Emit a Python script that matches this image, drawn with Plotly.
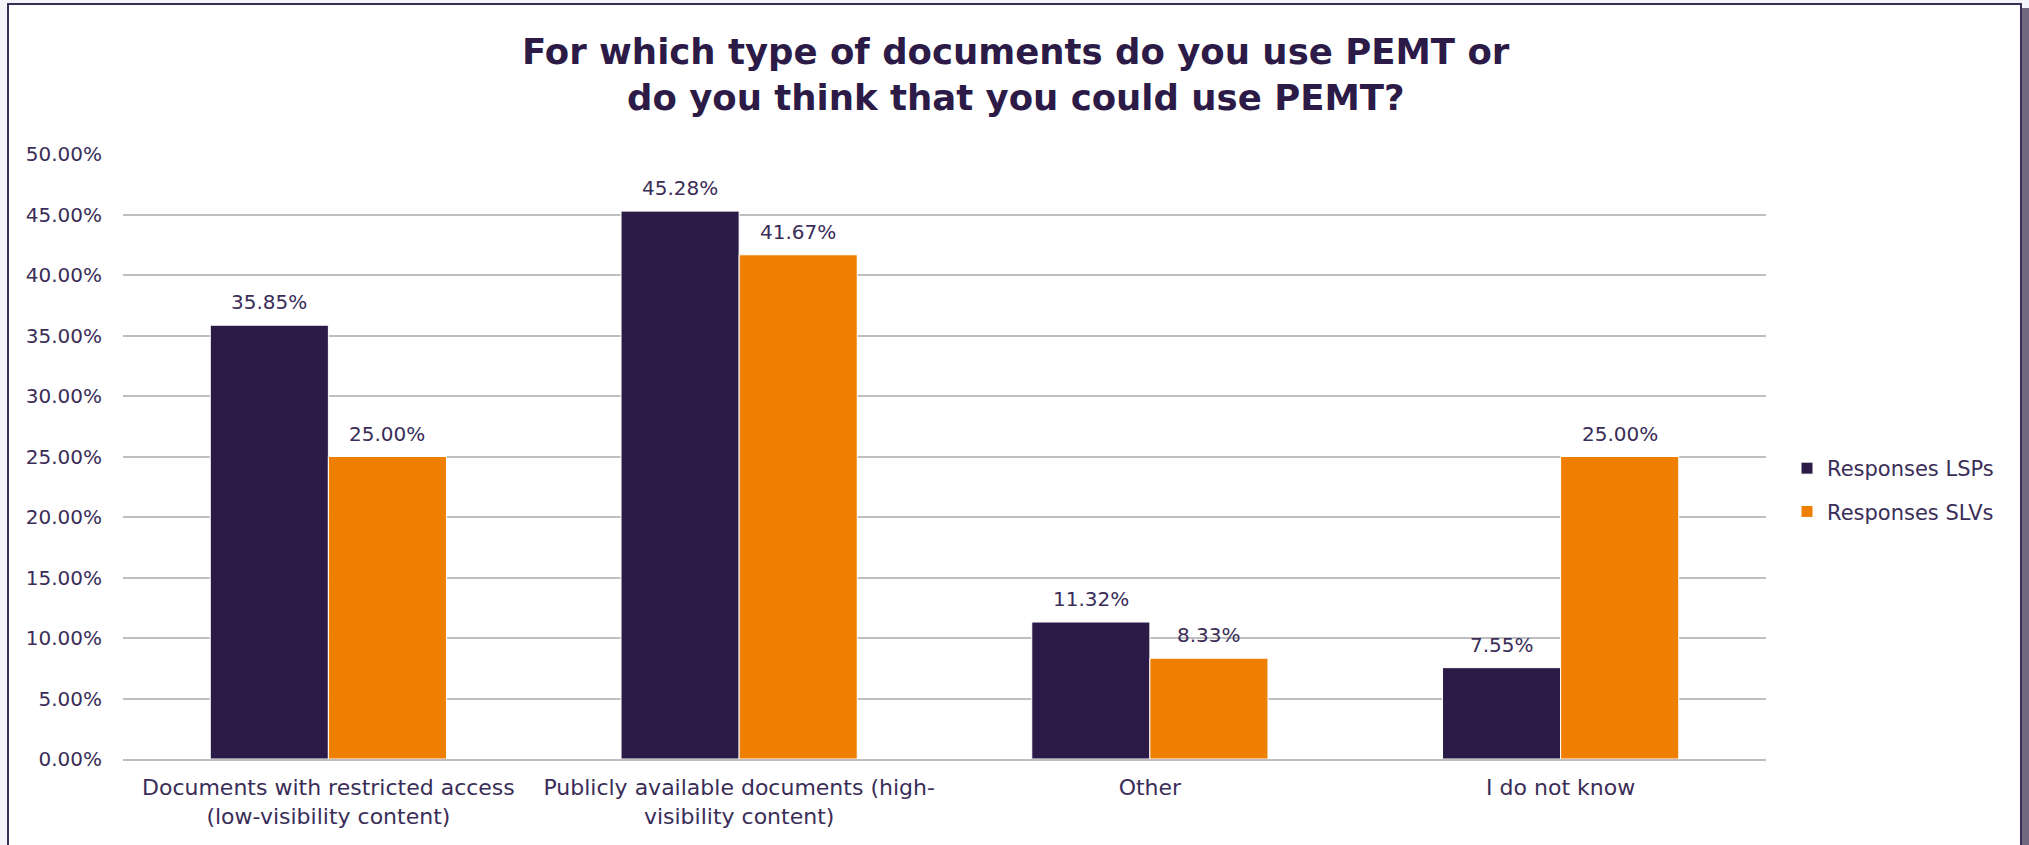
import plotly.graph_objects as go

categories = [
    "Documents with restricted access<br>(low-visibility content)",
    "Publicly available documents (high-<br>visibility content)",
    "Other",
    "I do not know",
]
lsp_values = [35.85, 45.28, 11.32, 7.55]
slv_values = [25.00, 41.67, 8.33, 25.00]
series_names = ["Responses LSPs", "Responses SLVs"]
y_ticks = [0, 5, 10, 15, 20, 25, 30, 35, 40, 45, 50]
y_tick_labels = [f"{v:.2f}%" for v in y_ticks]
title_lines = ["For which type of documents do you use PEMT or",
               "do you think that you could use PEMT?"]

TEXT = "#3A2D58"
DARK = "#2C1B47"
ORANGE = "#EE7F00"
FONT = "DejaVu Sans"

W, H = 2029, 845
L, R, T, B = 123, 263, 154, 86
pw, ph = W - L - R, H - T - B
BARGAP = 0.425

def px_x(p):
    return (p - L) / pw

def px_y(p):
    return (H - B - p) / ph

fig = go.Figure()
series = [(series_names[0], lsp_values, DARK, "a"),
          (series_names[1], slv_values, ORANGE, "b")]
for name, vals, col, grp in series:
    fig.add_trace(go.Bar(
        x=categories, y=vals, name=name, legendgroup=grp,
        marker=dict(color=col, line=dict(color="#FFFFFF", width=1)),
        cliponaxis=False, hoverinfo="x+y+name",
    ))

# data labels as annotations (slightly higher standoff than default)
bar_w = pw / len(categories) * (1 - BARGAP) / len(series)
annotations = []
for si, (name, vals, col, grp) in enumerate(series):
    shift = (si - (len(series) - 1) / 2) * bar_w
    for cat, v in zip(categories, vals):
        annotations.append(dict(
            x=cat, y=v, xref="x", yref="y", text=f"{v:.2f}%",
            showarrow=False, xanchor="center", yanchor="bottom",
            xshift=shift, yshift=9,
            font=dict(family=FONT, size=20, color=TEXT),
        ))

# title lines (centred on the page)
for line, ypx in zip(title_lines, [51, 98]):
    annotations.append(dict(
        x=px_x(1016), y=px_y(ypx), xref="paper", yref="paper",
        text=f"<b>{line}</b>", showarrow=False,
        xanchor="center", yanchor="middle",
        font=dict(family=FONT, size=35.5, color="#2C1B47"),
    ))

fig.update_layout(
    width=W, height=H,
    margin=dict(l=L, r=R, t=T, b=B, autoexpand=False),
    paper_bgcolor="#F4F5FB",
    plot_bgcolor="rgba(0,0,0,0)",
    barmode="group", bargap=BARGAP, bargroupgap=0,
    font=dict(family=FONT, size=20, color=TEXT),
    showlegend=True,
    legend=dict(
        x=px_x(1787), xanchor="left", y=px_y(490), yanchor="middle",
        font=dict(family=FONT, size=21, color=TEXT),
        tracegroupgap=13, traceorder="grouped",
        bgcolor="rgba(0,0,0,0)",
    ),
    xaxis=dict(
        showgrid=False, showline=True, linecolor="#BFBFBF", linewidth=1.5,
        tickfont=dict(family=FONT, size=22, color=TEXT),
        ticks="", ticklabelstandoff=8,
    ),
    yaxis=dict(
        range=[0, 50], tickvals=y_ticks, ticktext=y_tick_labels,
        showgrid=True, gridcolor="#BFBFBF", gridwidth=1.5,
        zeroline=False, showline=False, ticks="",
        tickfont=dict(family=FONT, size=20, color=TEXT),
        ticklabelstandoff=20,
    ),
    annotations=annotations,
    shapes=[
        dict(type="rect", xref="paper", yref="paper", layer="below",
             x0=px_x(8), x1=px_x(2021), y0=px_y(900), y1=px_y(4),
             fillcolor="#FFFFFF", line=dict(color="#3A2D58", width=2)),
        dict(type="rect", xref="paper", yref="paper", layer="below",
             x0=px_x(2022), x1=px_x(2029), y0=px_y(900), y1=px_y(8),
             fillcolor="#6E6880", line=dict(width=0)),
    ],
)

fig.write_html("out.html")
